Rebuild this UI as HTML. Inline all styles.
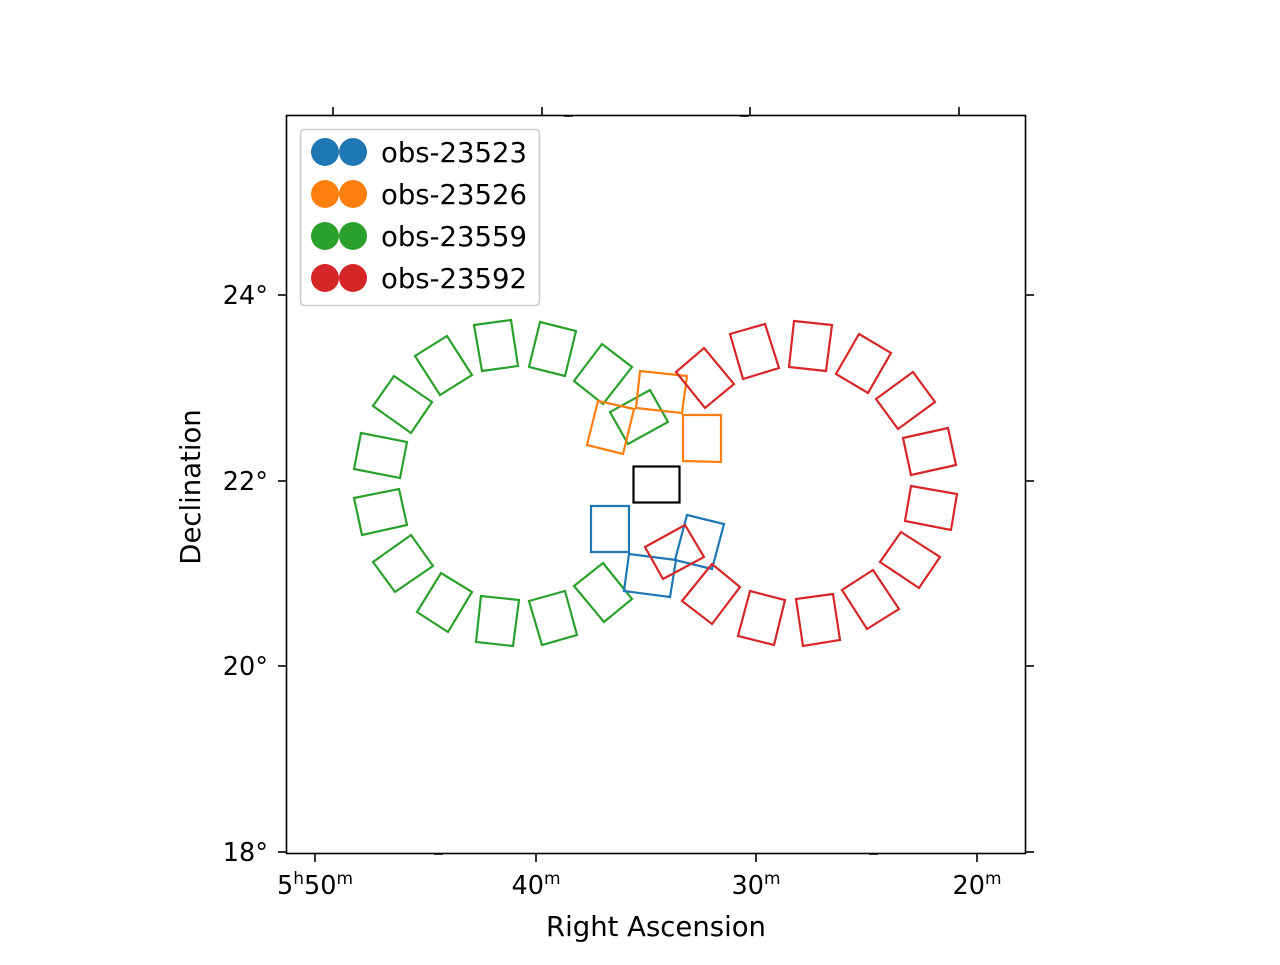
<!DOCTYPE html>
<html><head><meta charset="utf-8"><style>body{margin:0;background:#fff}</style></head><body>
<svg width="1280" height="960" xmlns="http://www.w3.org/2000/svg" font-family="DejaVu Sans, Liberation Sans, sans-serif" font-size="27.5">
<rect width="1280" height="960" fill="#fff"/>
<g fill="none" stroke-width="2.2" stroke-linejoin="miter">
<g stroke="#2ca02c">
<polygon points="474,325 511,320 518,366 482,371"/>
<polygon points="540,322 576,331 565,376 529,367"/>
<polygon points="602,344 632,367 603,404 574,381"/>
<polygon points="650,390 668,422 628,444 610,412"/>
<polygon points="447,336 472,375 440,395 415,356"/>
<polygon points="394,376 432,402 411,433 373,406"/>
<polygon points="361,433 407,442 400,478 354,469"/>
<polygon points="354,498 399,489 407,525 362,535"/>
<polygon points="373,562 411,535 433,566 395,592"/>
<polygon points="417,612 441,573 472,592 448,632"/>
<polygon points="481,596 519,600 513,646 476,642"/>
<polygon points="529,601 565,591 577,635 542,645"/>
<polygon points="574,586 603,563 632,599 604,622"/>
</g>
<g stroke="#ff7f0e">
<polygon points="640,371 687,376 682,413 636,408"/>
<polygon points="598,401 634,409 623,454 587,445"/>
<polygon points="683,415 721,415 721,462 683,461"/>
</g>
<g stroke="#1f77b4">
<polygon points="591,506 629,506 629,552 591,552"/>
<polygon points="629,554 676,560 670,597 624,591"/>
<polygon points="687,515 724,524 712,569 675,560"/>
</g>
<g stroke="#d62728">
<polygon points="645,547 685,525 704,557 663,579"/>
<polygon points="704,348 734,384 705,408 676,372"/>
<polygon points="730,334 765,324 779,368 743,379"/>
<polygon points="794,321 832,325 826,371 789,367"/>
<polygon points="859,334 891,353 868,393 836,374"/>
<polygon points="913,372 935,402 898,429 876,399"/>
<polygon points="903,438 948,428 956,465 911,475"/>
<polygon points="911,486 957,494 951,530 905,521"/>
<polygon points="901,532 940,557 919,588 880,562"/>
<polygon points="873,570 899,609 867,629 842,590"/>
<polygon points="796,599 833,594 840,640 803,646"/>
<polygon points="750,591 785,600 774,645 738,636"/>
<polygon points="712,564 740,587 712,624 682,601"/>
</g>
<rect x="633.5" y="466.5" width="46" height="36" stroke="#000"/>
</g>
<rect x="286.5" y="115.5" width="739" height="738" fill="none" stroke="#000" stroke-width="1.6"/>
<g stroke="#000" stroke-width="1.6">
<line x1="286" y1="295" x2="278" y2="295"/><line x1="286" y1="481" x2="278" y2="481"/>
<line x1="286" y1="666" x2="278" y2="666"/><line x1="286" y1="852" x2="278" y2="852"/>
<line x1="1026" y1="295" x2="1034" y2="295"/><line x1="1026" y1="481" x2="1034" y2="481"/>
<line x1="1026" y1="666" x2="1034" y2="666"/><line x1="1026" y1="852" x2="1034" y2="852"/>
<line x1="333" y1="115" x2="333" y2="107"/><line x1="542" y1="115" x2="542" y2="107"/>
<line x1="750" y1="115" x2="750" y2="107"/><line x1="959" y1="115" x2="959" y2="107"/>
<line x1="564" y1="116" x2="573" y2="116"/><line x1="740" y1="116" x2="749" y2="116"/>
<line x1="315" y1="854" x2="315" y2="862"/><line x1="536" y1="854" x2="536" y2="862"/>
<line x1="756" y1="854" x2="756" y2="862"/><line x1="977" y1="854" x2="977" y2="862"/>
<line x1="434" y1="854" x2="443" y2="854"/><line x1="869" y1="854" x2="878" y2="854"/>
</g>
<g font-size="25.5" text-anchor="end">
<text x="268" y="304">24°</text><text x="268" y="490">22°</text>
<text x="268" y="675">20°</text><text x="268" y="861">18°</text>
</g>
<g font-size="25.5" text-anchor="middle">
<text x="315" y="894">5<tspan font-size="17" dy="-10">h</tspan><tspan dy="10">50</tspan><tspan font-size="17" dy="-10">m</tspan></text>
<text x="536" y="894">40<tspan font-size="17" dy="-10">m</tspan></text>
<text x="756" y="894">30<tspan font-size="17" dy="-10">m</tspan></text>
<text x="977" y="894">20<tspan font-size="17" dy="-10">m</tspan></text>
</g>
<text x="656" y="936" text-anchor="middle" font-size="27.5">Right Ascension</text>
<text transform="translate(200,487) rotate(-90)" text-anchor="middle" font-size="27.5">Declination</text>
<rect x="300.5" y="129.5" width="239" height="176" rx="4" fill="#fff" fill-opacity="0.8" stroke="#ccc" stroke-width="1.6"/>
<g font-size="27.5">
<circle cx="325" cy="152" r="14" fill="#1f77b4"/><circle cx="353" cy="152" r="14" fill="#1f77b4"/><text x="381" y="162">obs-23523</text>
<circle cx="325" cy="194" r="14" fill="#ff7f0e"/><circle cx="353" cy="194" r="14" fill="#ff7f0e"/><text x="381" y="204">obs-23526</text>
<circle cx="325" cy="236" r="14" fill="#2ca02c"/><circle cx="353" cy="236" r="14" fill="#2ca02c"/><text x="381" y="246">obs-23559</text>
<circle cx="325" cy="278" r="14" fill="#d62728"/><circle cx="353" cy="278" r="14" fill="#d62728"/><text x="381" y="288">obs-23592</text>
</g>
</svg>
</body></html>
